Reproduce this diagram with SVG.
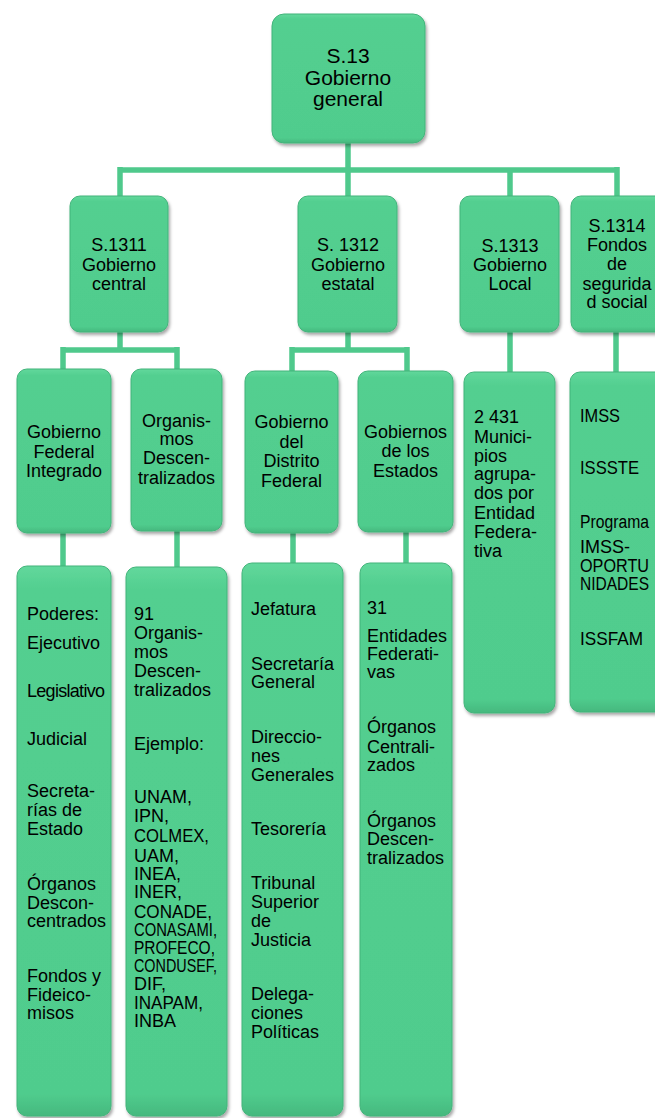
<svg xmlns="http://www.w3.org/2000/svg" width="655" height="1118" viewBox="0 0 655 1118">
<defs>
<filter id="sh" x="-10%" y="-10%" width="130%" height="130%">
<feDropShadow dx="1.5" dy="2.5" stdDeviation="1.8" flood-color="#000" flood-opacity="0.35"/>
</filter>
<linearGradient id="gr" x1="0" y1="0" x2="0" y2="1">
<stop offset="0" stop-color="#62d89c"/>
<stop offset="0.04" stop-color="#53cf90"/>
<stop offset="0.96" stop-color="#50cc8d"/>
<stop offset="1" stop-color="#45b87e"/>
</linearGradient>
</defs>
<style>
.b{fill:url(#gr);stroke:#43b47b;stroke-width:1;filter:url(#sh);}
.c{stroke:#4fc98c;stroke-width:5.5;fill:none;}
text{font-family:"Liberation Sans",Arial,sans-serif;font-size:18px;fill:#000;}
.m{text-anchor:middle;}
.t{font-size:21px;}
</style>
<rect width="655" height="1118" fill="#fff"/>
<g id="connectors">
<path class="c" d="M348 143V170M120 170H617M120 167V196M348 170V196M510 170V196M617 167V196"/>
<path class="c" d="M120 332V350M63 350H177M63 347V369M177 347V369"/>
<path class="c" d="M348 332V350M292 350H407M292 347V371M407 347V371"/>
<path class="c" d="M510 332V372M616 332V372"/>
<path class="c" d="M63 533V566M177 531V567M293 533V563M406 532V563"/>
</g>
<g id="n_s13">
<rect class="b" x="272" y="14" width="153" height="129" rx="12"/>
<text class="m t" x="348" y="63">S.13</text>
<text class="m t" x="348" y="85">Gobierno</text>
<text class="m t" x="348" y="106">general</text>
</g>
<g id="n_s1311">
<rect class="b" x="70" y="196" width="98" height="136" rx="10"/>
<text class="m" x="119" y="251">S.1311</text>
<text class="m" x="119" y="271">Gobierno</text>
<text class="m" x="119" y="290">central</text>
</g>
<g id="n_s1312">
<rect class="b" x="298" y="196" width="99" height="136" rx="10"/>
<text class="m" x="348" y="251">S. 1312</text>
<text class="m" x="348" y="271">Gobierno</text>
<text class="m" x="348" y="290">estatal</text>
</g>
<g id="n_s1313">
<rect class="b" x="460" y="196" width="99" height="136" rx="10"/>
<text class="m" x="510" y="252">S.1313</text>
<text class="m" x="510" y="271">Gobierno</text>
<text class="m" x="510" y="290">Local</text>
</g>
<g id="n_s1314">
<rect class="b" x="571" y="196" width="98" height="136" rx="10"/>
<text class="m" x="617" y="232">S.1314</text>
<text class="m" x="617" y="251">Fondos</text>
<text class="m" x="617" y="270">de</text>
<text class="m" x="617" y="290">segurida</text>
<text class="m" x="617" y="308">d social</text>
</g>
<g id="n_gfi">
<rect class="b" x="17" y="369" width="94" height="164" rx="10"/>
<text class="m" x="64" y="438">Gobierno</text>
<text class="m" x="64" y="458">Federal</text>
<text class="m" x="64" y="477">Integrado</text>
</g>
<g id="n_od">
<rect class="b" x="131" y="369" width="91" height="162" rx="10"/>
<text class="m" x="176.5" y="427">Organis-</text>
<text class="m" x="176.5" y="445">mos</text>
<text class="m" x="176.5" y="464">Descen-</text>
<text class="m" x="176.5" y="484">tralizados</text>
</g>
<g id="n_gdf">
<rect class="b" x="245" y="371" width="93" height="162" rx="10"/>
<text class="m" x="291.5" y="428">Gobierno</text>
<text class="m" x="291.5" y="448">del</text>
<text class="m" x="291.5" y="467">Distrito</text>
<text class="m" x="291.5" y="487">Federal</text>
</g>
<g id="n_ge">
<rect class="b" x="358" y="371" width="95" height="161" rx="10"/>
<text class="m" x="405.5" y="438">Gobiernos</text>
<text class="m" x="405.5" y="457">de los</text>
<text class="m" x="405.5" y="477">Estados</text>
</g>
<g id="n_mun">
<rect class="b" x="464" y="372" width="91" height="341" rx="10"/>
<text x="474" y="423">2 431</text>
<text x="474" y="443">Munici-</text>
<text x="474" y="462">pios</text>
<text x="474" y="480">agrupa-</text>
<text x="474" y="499">dos por</text>
<text x="474" y="519">Entidad</text>
<text x="474" y="538">Federa-</text>
<text x="474" y="557">tiva</text>
</g>
<g id="n_imss">
<rect class="b" x="570" y="372" width="96" height="340" rx="10"/>
<text x="580" y="422" textLength="40" lengthAdjust="spacingAndGlyphs">IMSS</text>
<text x="580" y="474" textLength="59" lengthAdjust="spacingAndGlyphs">ISSSTE</text>
<text x="580" y="528" textLength="69" lengthAdjust="spacingAndGlyphs">Programa</text>
<text x="580" y="553">IMSS-</text>
<text x="580" y="572" textLength="69" lengthAdjust="spacingAndGlyphs">OPORTU</text>
<text x="580" y="590" textLength="69" lengthAdjust="spacingAndGlyphs">NIDADES</text>
<text x="580" y="645" textLength="63" lengthAdjust="spacingAndGlyphs">ISSFAM</text>
</g>
<g id="n_poderes">
<rect class="b" x="17" y="566" width="94" height="550" rx="10"/>
<text x="27" y="620">Poderes:</text>
<text x="27" y="649">Ejecutivo</text>
<text x="27" y="697" textLength="78" lengthAdjust="spacing">Legislativo</text>
<text x="27" y="745">Judicial</text>
<text x="27" y="797">Secreta-</text>
<text x="27" y="816">rías de</text>
<text x="27" y="835">Estado</text>
<text x="27" y="890">Órganos</text>
<text x="27" y="909">Descon-</text>
<text x="27" y="927">centrados</text>
<text x="27" y="982">Fondos y</text>
<text x="27" y="1001">Fideico-</text>
<text x="27" y="1019">misos</text>
</g>
<g id="n_org91">
<rect class="b" x="126" y="567" width="101" height="549" rx="10"/>
<text x="134" y="620">91</text>
<text x="134" y="639">Organis-</text>
<text x="134" y="658">mos</text>
<text x="134" y="677">Descen-</text>
<text x="134" y="696">tralizados</text>
<text x="134" y="750">Ejemplo:</text>
<text x="134" y="803">UNAM,</text>
<text x="134" y="822">IPN,</text>
<text x="134" y="842" textLength="75" lengthAdjust="spacingAndGlyphs">COLMEX,</text>
<text x="134" y="862">UAM,</text>
<text x="134" y="880">INEA,</text>
<text x="134" y="898">INER,</text>
<text x="134" y="918" textLength="78" lengthAdjust="spacingAndGlyphs">CONADE,</text>
<text x="134" y="936" textLength="83" lengthAdjust="spacingAndGlyphs">CONASAMI,</text>
<text x="134" y="954" textLength="81" lengthAdjust="spacingAndGlyphs">PROFECO,</text>
<text x="134" y="972" textLength="83" lengthAdjust="spacingAndGlyphs">CONDUSEF,</text>
<text x="134" y="990">DIF,</text>
<text x="134" y="1009" textLength="69" lengthAdjust="spacingAndGlyphs">INAPAM,</text>
<text x="134" y="1027">INBA</text>
</g>
<g id="n_jef">
<rect class="b" x="242" y="563" width="101" height="553" rx="10"/>
<text x="251" y="615">Jefatura</text>
<text x="251" y="670">Secretaría</text>
<text x="251" y="688">General</text>
<text x="251" y="743">Direccio-</text>
<text x="251" y="762">nes</text>
<text x="251" y="781">Generales</text>
<text x="251" y="835">Tesorería</text>
<text x="251" y="889">Tribunal</text>
<text x="251" y="908">Superior</text>
<text x="251" y="927">de</text>
<text x="251" y="946">Justicia</text>
<text x="251" y="1000">Delega-</text>
<text x="251" y="1019">ciones</text>
<text x="251" y="1038">Políticas</text>
</g>
<g id="n_ent">
<rect class="b" x="360" y="563" width="92" height="553" rx="10"/>
<text x="367" y="614">31</text>
<text x="367" y="642">Entidades</text>
<text x="367" y="660">Federati-</text>
<text x="367" y="678">vas</text>
<text x="367" y="733">Órganos</text>
<text x="367" y="753">Centrali-</text>
<text x="367" y="771">zados</text>
<text x="367" y="827">Órganos</text>
<text x="367" y="845">Descen-</text>
<text x="367" y="864">tralizados</text>
</g>
</svg>
